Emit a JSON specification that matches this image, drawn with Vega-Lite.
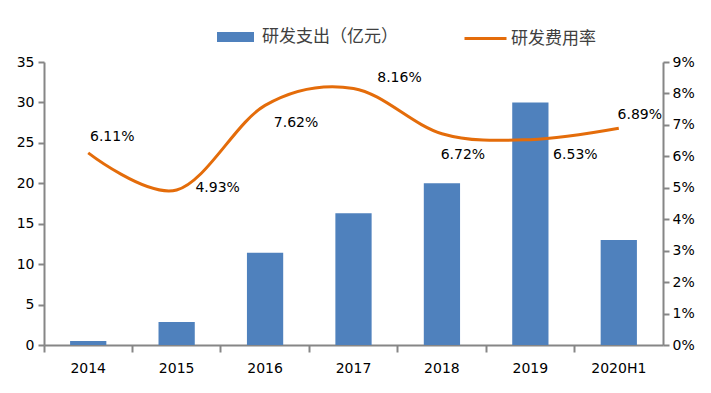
{
  "$schema": "https://vega.github.io/schema/vega-lite/v6.json",
  "width": 619,
  "height": 283,
  "autosize": {"type": "none"},
  "padding": {"left": 44, "top": 62, "right": 48, "bottom": 48},
  "background": "white",
  "config": {
    "view": {"stroke": null},
    "font": "DejaVu Sans",
    "axis": {
      "domainColor": "#868686",
      "domainWidth": 2,
      "tickColor": "#868686",
      "tickWidth": 2,
      "labelFont": "DejaVu Sans",
      "labelFontSize": 14,
      "labelColor": "#000000",
      "grid": false,
      "title": null
    }
  },
  "data": {
    "values": [
      {"year": "2014", "spend": 0.5, "rate": 0.0611},
      {"year": "2015", "spend": 2.85, "rate": 0.0493},
      {"year": "2016", "spend": 11.4, "rate": 0.0762},
      {"year": "2017", "spend": 16.3, "rate": 0.0816},
      {"year": "2018", "spend": 20.0, "rate": 0.0672},
      {"year": "2019", "spend": 30.0, "rate": 0.0653},
      {"year": "2020H1", "spend": 13.0, "rate": 0.0689}
    ]
  },
  "layer": [
    {
      "mark": {"type": "bar", "width": {"band": 0.41}},
      "encoding": {
        "x": {
          "field": "year",
          "type": "nominal",
          "sort": null,
          "scale": {"paddingInner": 0, "paddingOuter": 0},
          "axis": {"bandPosition": 0, "labelOffset": 0, "tickSize": 7, "labelPadding": 9, "labelAngle": 0}
        },
        "y": {
          "field": "spend",
          "type": "quantitative",
          "scale": {"domain": [0, 35]},
          "axis": {"values": [0, 5, 10, 15, 20, 25, 30, 35], "tickSize": 6, "labelPadding": 4}
        },
        "fill": {
          "datum": "研发支出（亿元）",
          "type": "nominal",
          "scale": {"range": ["#4F81BD"]},
          "legend": {
            "orient": "none",
            "legendX": 173,
            "legendY": -35,
            "title": null,
            "symbolType": "M-1,-0.5H2.7V0.5H-1Z",
            "symbolSize": 400,
            "symbolStrokeWidth": 0,
            "labelOffset": 25,
            "labelFont": "Noto Sans CJK SC",
            "labelFontSize": 17,
            "labelColor": "#404040"
          }
        }
      }
    },
    {
      "encoding": {
        "x": {"field": "year", "type": "nominal", "sort": null},
        "y": {
          "field": "rate",
          "type": "quantitative",
          "scale": {"domain": [0, 0.09]},
          "axis": {"orient": "right", "format": ".0%", "values": [0, 0.01, 0.02, 0.03, 0.04, 0.05, 0.06, 0.07, 0.08, 0.09], "tickSize": 6, "labelPadding": 3}
        }
      },
      "layer": [
        {
          "mark": {"type": "line", "interpolate": "cardinal", "strokeWidth": 3},
          "encoding": {
            "stroke": {
              "datum": "研发费用率",
              "type": "nominal",
              "scale": {"range": ["#E46C0A"]},
              "legend": {
                "orient": "none",
                "legendX": 419,
                "legendY": -46,
                "title": null,
                "symbolType": "stroke",
                "symbolSize": 1764,
                "symbolStrokeWidth": 3,
                "labelOffset": 3,
                "labelFont": "Noto Sans CJK SC",
                "labelFontSize": 17,
                "labelColor": "#404040"
              }
            }
          }
        },
        {"transform": [{"filter": "datum.year == '2014'"}], "mark": {"type": "text", "dx": 24, "dy": -16, "fontSize": 14, "font": "DejaVu Sans", "color": "#000000"}, "encoding": {"text": {"field": "rate", "format": ".2%"}}},
        {"transform": [{"filter": "datum.year == '2015'"}], "mark": {"type": "text", "dx": 41, "dy": -2, "fontSize": 14, "font": "DejaVu Sans", "color": "#000000"}, "encoding": {"text": {"field": "rate", "format": ".2%"}}},
        {"transform": [{"filter": "datum.year == '2016'"}], "mark": {"type": "text", "dx": 31, "dy": 18, "fontSize": 14, "font": "DejaVu Sans", "color": "#000000"}, "encoding": {"text": {"field": "rate", "format": ".2%"}}},
        {"transform": [{"filter": "datum.year == '2017'"}], "mark": {"type": "text", "dx": 46, "dy": -10, "fontSize": 14, "font": "DejaVu Sans", "color": "#000000"}, "encoding": {"text": {"field": "rate", "format": ".2%"}}},
        {"transform": [{"filter": "datum.year == '2018'"}], "mark": {"type": "text", "dx": 21, "dy": 21, "fontSize": 14, "font": "DejaVu Sans", "color": "#000000"}, "encoding": {"text": {"field": "rate", "format": ".2%"}}},
        {"transform": [{"filter": "datum.year == '2019'"}], "mark": {"type": "text", "dx": 45, "dy": 15, "fontSize": 14, "font": "DejaVu Sans", "color": "#000000"}, "encoding": {"text": {"field": "rate", "format": ".2%"}}},
        {"transform": [{"filter": "datum.year == '2020H1'"}], "mark": {"type": "text", "dx": 21, "dy": -13, "fontSize": 14, "font": "DejaVu Sans", "color": "#000000"}, "encoding": {"text": {"field": "rate", "format": ".2%"}}}
      ]
    }
  ],
  "resolve": {"scale": {"y": "independent"}}
}
